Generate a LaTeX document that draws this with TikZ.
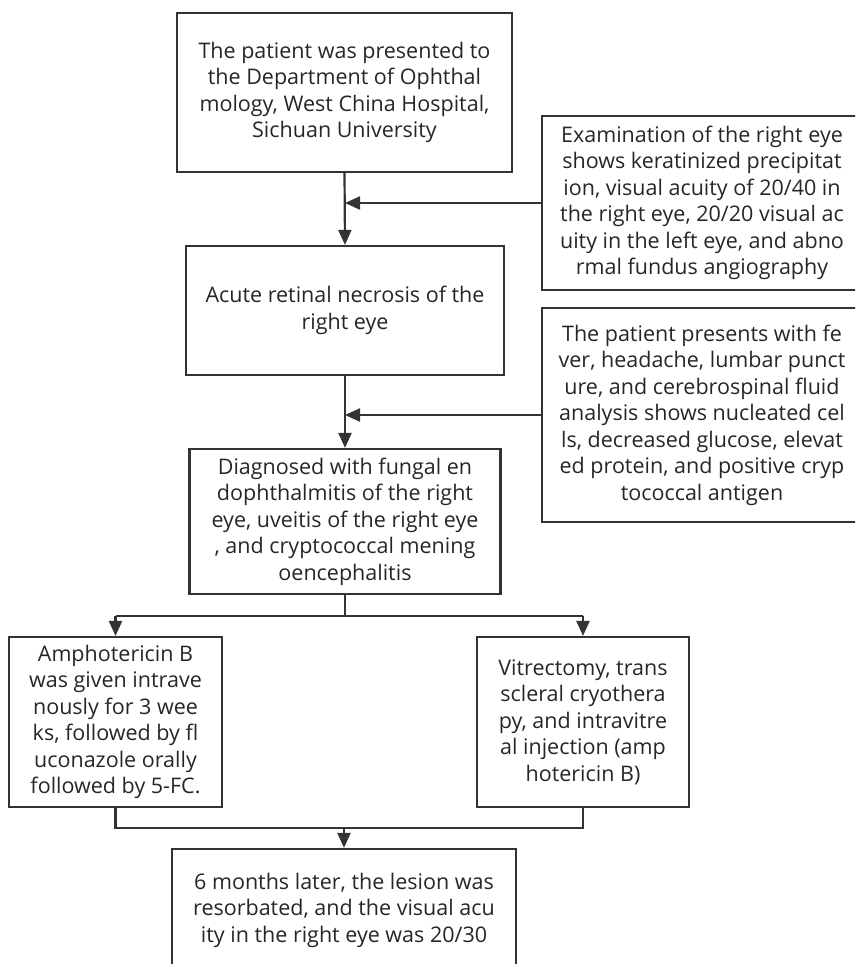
\documentclass[tikz,border=0pt]{standalone}
\usepackage{fontspec}
\setmainfont{Open Sans}
\usetikzlibrary{arrows.meta}
\definecolor{ln}{HTML}{333333}
\definecolor{tx}{HTML}{262626}
\begin{document}
\begin{tikzpicture}[x=1pt,y=-1pt,
  box/.style={draw=ln,line width=2.2pt,rectangle,inner sep=0pt,align=center,text=tx,
    font=\fontsize{21.5}{26.5}\selectfont},
  conn/.style={draw=ln,line width=2.2pt},
  arr/.style={conn,-{Triangle[length=15pt,width=13pt]}}]
\useasboundingbox (0,0) rectangle (855,964);
\clip (0,0) rectangle (855,964);
\node[box,minimum width=335pt,minimum height=159pt] (b1) at (344.5,92.5)
  {The patient was presented to\\ the Department of Ophthal\\mology, West China Hospital,\\Sichuan University};
\node[box,minimum width=320pt,minimum height=174pt] (b2) at (702,203)
  {Examination of the right eye\\ shows keratinized precipitat\\ion, visual acuity of 20/40 in\\ the right eye, 20/20 visual ac\\uity in the left eye, and abno\\rmal fundus angiography};
\node[box,minimum width=318pt,minimum height=129pt] (b3) at (345,310.5)
  {Acute retinal necrosis of the\\right eye};
\node[box,minimum width=320pt,minimum height=214pt] (b4) at (702,415)
  {The patient presents with fe\\ver, headache, lumbar punct\\ure, and cerebrospinal fluid\\ analysis shows nucleated cel\\ls, decreased glucose, elevat\\ed protein, and positive cryp\\tococcal antigen};
\node[box,minimum width=311pt,minimum height=145pt] (b5) at (345,521.5)
  {Diagnosed with fungal en\\dophthalmitis of the right\\eye, uveitis of the right eye\\, and cryptococcal mening\\oencephalitis};
\node[box,minimum width=213pt,minimum height=170pt] (b6) at (115.5,722)
  {Amphotericin B\\was given intrave\\nously for 3 wee\\ks, followed by fl\\uconazole orally\\followed by 5-FC.};
\node[box,minimum width=212pt,minimum height=170pt] (b7) at (583,722)
  {Vitrectomy, trans\\scleral cryothera\\py, and intravitre\\al injection (amp\\hotericin B)};
\node[box,minimum width=344pt,minimum height=122pt] (b8) at (344,910)
  {6 months later, the lesion was\\resorbated, and the visual acu\\ity in the right eye was 20/30};
\coordinate (j1) at (345,203);
\coordinate (j2) at (345,415);
\coordinate (s5) at (345,616);
\coordinate (l6) at (115.5,616);
\coordinate (r7) at (583,616);
\coordinate (d6) at (115.5,828);
\coordinate (d7) at (583,828);
\coordinate (m8) at (344,828);
\draw[arr] (b1.south) -- (b3.north);
\draw[arr] (b2.west) -- (j1);
\draw[arr] (b3.south) -- (b5.north);
\draw[arr] (b4.west) -- (j2);
\draw[conn] (b5.south) -- (s5);
\draw[conn] (l6) -- (r7);
\draw[arr] (l6) -- (b6.north);
\draw[arr] (r7) -- (b7.north);
\draw[conn] (b6.south) -- (d6) -- (d7) -- (b7.south);
\draw[arr] (m8) -- (b8.north);
\end{tikzpicture}
\end{document}
